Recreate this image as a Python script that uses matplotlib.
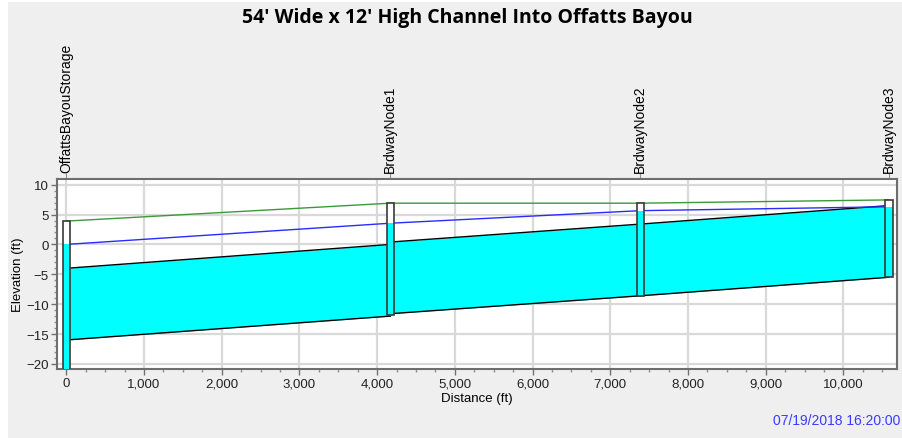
import matplotlib
matplotlib.use('Agg')
import matplotlib.pyplot as plt
from matplotlib.patches import Rectangle
from matplotlib.ticker import MultipleLocator, FuncFormatter

plt.rcParams['font.family'] = ['Liberation Sans', 'DejaVu Sans']

# node data (distance along profile, ft)
node_names = ['OffattsBayouStorage', 'BrdwayNode1', 'BrdwayNode2', 'BrdwayNode3']
node_dist = [0, 4170, 7385, 10585]
node_invert = [-21.0, -11.75, -8.6, -5.45]
node_top = [3.9, 6.9, 6.9, 7.45]
node_hgl = [0.0, 3.55, 5.65, 6.3]

# conduits between consecutive nodes
link_up_invert = [-16.0, -11.6, -8.6]
link_dn_invert = [-12.0, -8.6, -5.5]
link_height = 12.0

fig = plt.figure(figsize=(9.03, 4.39), dpi=100, facecolor='#efefef')
ax = fig.add_axes([0.0631, 0.1572, 0.9303, 0.4328])

# conduits
for i in range(len(link_up_invert)):
    x = [node_dist[i], node_dist[i + 1]]
    bot = [link_up_invert[i], link_dn_invert[i]]
    top = [b + link_height for b in bot]
    ax.fill_between(x, bot, top, color='#00ffff', lw=0, zorder=2)
    ax.plot(x, bot, color='black', lw=1, zorder=3)
    ax.plot(x, top, color='black', lw=1, zorder=3)

# ground / node rim and hydraulic grade line
ax.plot(node_dist, node_top, color='#3a9a3a', lw=1, zorder=3)
ax.plot(node_dist, node_hgl, color='#2b2bff', lw=1, zorder=3)

# node boxes
hw = 47
for d, inv, top, h in zip(node_dist, node_invert, node_top, node_hgl):
    ax.add_patch(Rectangle((d - hw, inv), 2 * hw, top - inv,
                           facecolor='white', edgecolor='none', zorder=4))
    ax.add_patch(Rectangle((d - hw, inv), 2 * hw, h - inv,
                           facecolor='#00ffff', edgecolor='none', zorder=5))
    ax.add_patch(Rectangle((d - hw, inv), 2 * hw, top - inv,
                           facecolor='none', edgecolor='#3a3a3a', lw=1.2, zorder=6))

ax.set_xlim(-120, 10690)
ax.set_ylim(-20.85, 10.95)

ax.xaxis.set_major_locator(MultipleLocator(1000))
ax.xaxis.set_minor_locator(MultipleLocator(250))
ax.yaxis.set_major_locator(MultipleLocator(5))
ax.yaxis.set_minor_locator(MultipleLocator(1))
ax.xaxis.set_major_formatter(FuncFormatter(lambda v, p: f'{int(v):,}'))
ax.grid(True, which='major', color='#d9d9d9', lw=1.6, zorder=0)
ax.set_axisbelow(True)

ax.tick_params(which='major', length=4, width=1, color='#707070', labelsize=9.5,
               labelcolor='#222222', pad=2)
ax.tick_params(which='minor', length=2, width=1, color='#909090')
for s in ax.spines.values():
    s.set_color('#6e6e6e')
    s.set_linewidth(1.5)

ax.set_xlabel('Distance (ft)', fontsize=9.5, labelpad=2)
ax.set_ylabel('Elevation (ft)', fontsize=9.5, labelpad=1.5)

# node names along the top
sec = ax.secondary_xaxis('top')
sec.set_xticks(node_dist, labels=node_names, rotation=90, fontsize=10)
sec.tick_params(length=4, color='#909090', pad=1)
sec.spines['top'].set_visible(False)

fig.text(0.518, 0.958, "54' Wide x 12' High Channel Into Offatts Bayou",
         ha='center', va='center', fontsize=14, fontweight='bold',
         family=['Open Sans', 'DejaVu Sans'])
fig.text(0.997, 0.041, '07/19/2018 16:20:00', ha='right', va='center',
         fontsize=10, color='#3b3bff')

# white margins of the original screenshot
fig.patches.append(Rectangle((0, 0), 8 / 903, 1, transform=fig.transFigure,
                             facecolor='white', edgecolor='none'))
fig.patches.append(Rectangle((0, 1 - 3 / 439), 1, 3 / 439, transform=fig.transFigure,
                             facecolor='white', edgecolor='none'))

fig.savefig('out.png', dpi=100, facecolor=fig.get_facecolor())
